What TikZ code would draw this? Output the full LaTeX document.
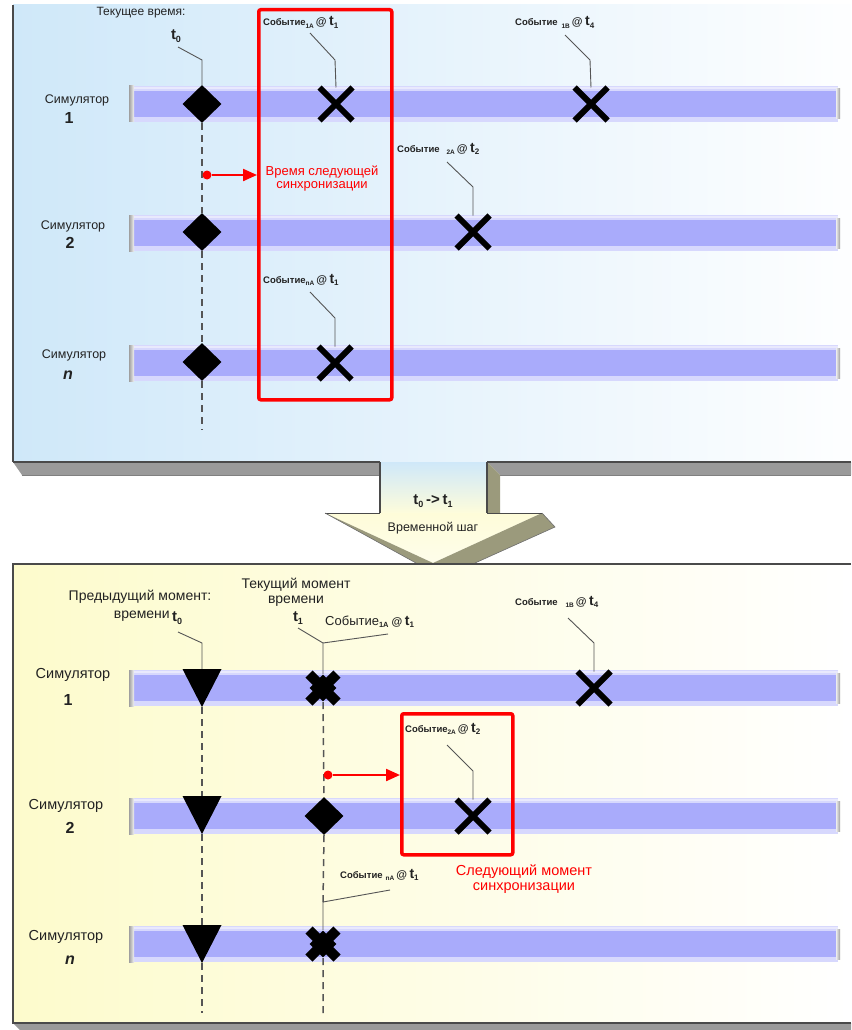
\documentclass[tikz,border=0pt]{standalone}
\usepackage{fontspec}
\setmainfont{Liberation Sans}
\usetikzlibrary{shapes.geometric,shapes.misc,arrows.meta}

\definecolor{skyL}{HTML}{CFE8F9}
\definecolor{creamL}{HTML}{FDFBCC}
\definecolor{barMain}{HTML}{A9ABFB}
\definecolor{barEdge}{HTML}{D7D8FD}
\definecolor{frameGray}{HTML}{4A4A4A}
\definecolor{ledgeGray}{HTML}{9A9A9A}
\definecolor{khaki}{HTML}{9B9A7C}
\definecolor{leadGray}{HTML}{555555}
\definecolor{sigRed}{HTML}{FF0000}
\definecolor{inkDark}{HTML}{222222}

\newcommand{\fsz}[1]{\fontsize{#1}{#1}\selectfont}
% small event tag: gap, subscript, time index
\newcommand{\evsmall}[3]{{\fsz{9.5}\bfseries Событие}\hspace{#1}\raisebox{-2.5pt}{\fsz{6.5}\bfseries #2}\hspace{2pt}{\fsz{11}\bfseries @}\hspace{2.5pt}{\fsz{14}\bfseries t}\raisebox{-2.5pt}{\fsz{8}\bfseries #3}}
% larger event tag used under the current time
\newcommand{\evbig}[2]{{\fsz{13}Событие}\raisebox{-2.5pt}{\fsz{7.5}\bfseries #1}\hspace{3pt}{\fsz{11}\bfseries @}\hspace{2.5pt}{\fsz{14}\bfseries t}\raisebox{-2.5pt}{\fsz{8}\bfseries #2}}
\newcommand{\tsub}[1]{{\fsz{15}\bfseries t}\raisebox{-3pt}{\fsz{9}\bfseries #1}}

% one simulator timeline bar centred at the given height
\newcommand{\lane}[1]{%
  \begin{scope}[shift={(0,#1)}]
    \fill[barEdge] (130,-18) rectangle (838,18);
    \fill[barMain] (130,-13) rectangle (838,13);
    \fill[white,opacity=0.45] (130,-17) rectangle (838,-15);
    \shade[left color=gray!75, right color=gray!10] (129,-18) rectangle (134,18);
    \shade[left color=gray!15, right color=gray!75] (836,-15) rectangle (840,15);
  \end{scope}}

\tikzset{
  dmd/.style={diamond, fill=black, minimum width=39pt, minimum height=38pt, inner sep=0pt},
  xm/.style={cross out, draw=black, line width=6pt, minimum size=33pt, inner sep=0pt, outer sep=0pt},
  bx/.style={cross out, draw=black, line width=10pt, minimum size=28pt, inner sep=0pt, outer sep=0pt},
  bxc/.style={diamond, fill=black, minimum size=27pt, inner sep=0pt},
  tri/.style={rectangle, minimum width=39pt, minimum height=38pt, inner sep=0pt,
    path picture={\fill[black] (path picture bounding box.north west) -- (path picture bounding box.north east) -- (path picture bounding box.south) -- cycle;}},
  simlbl/.style={inner sep=0pt, text=inkDark, font=\fsz{12.5}},
  simlblB/.style={inner sep=0pt, text=inkDark, font=\fsz{14.5}},
  simnum/.style={inner sep=0pt, text=inkDark, font=\fsz{16}\bfseries},
  simnumit/.style={inner sep=0pt, text=inkDark, font=\fsz{16}\bfseries\itshape},
  evl/.style={anchor=base west, inner sep=0pt, text=inkDark},
  lead/.style={draw=leadGray, line width=0.9pt},
  dashline/.style={draw=leadGray, line width=1.5pt, dash pattern=on 7pt off 5pt},
  syncbox/.style={draw=sigRed, line width=3.5pt, rounded corners=2pt, anchor=north west, inner sep=0pt},
  rdot/.style={circle, fill=sigRed, minimum size=9pt, inner sep=0pt},
  redarrow/.style={draw=sigRed, line width=2.2pt, -{Triangle[length=14pt,width=12pt]}},
  redtxt/.style={text=sigRed, align=center, inner sep=0pt},
  plain/.style={inner sep=0pt, text=inkDark},
}

\begin{document}
\begin{tikzpicture}[x=1pt,y=-1pt]
\useasboundingbox (0,0) rectangle (851,1030);

% ---------- upper panel ----------
\shade[left color=skyL, right color=white!97!skyL] (13,5) rectangle (851,462);
\draw[frameGray, line width=1.5pt] (13,5) -- (13,462);
\fill[ledgeGray] (13,462) -- (380,462) -- (380,475) -- (22,475) -- cycle;
\fill[ledgeGray] (487,462) -- (851,462) -- (851,475) -- (500,475) -- cycle;
\draw[frameGray, line width=1.2pt] (13,462) -- (380,462) (487,462) -- (851,462);
\draw[frameGray!70, line width=0.8pt] (22,475) -- (380,475) (500,475) -- (851,475);

% ---------- time-step arrow ----------
\shade[top color=skyL, bottom color=creamL!70!white] (380,462) rectangle (487,513);
\fill[khaki] (487,462) -- (500,475) -- (500,513) -- (487,513) -- cycle;
\draw[frameGray, line width=1.2pt] (380,462) -- (380,513) (487,462) -- (487,513);
\shade[top color=creamL!75!white, bottom color=creamL!40!white] (325,513) -- (542,513) -- (433,563) -- cycle;
\fill[khaki] (325,513) -- (433,563) -- (416,563) -- cycle;
\fill[khaki] (542,513) -- (555,527) -- (475,563) -- (433,563) -- cycle;
\draw[frameGray, line width=1pt] (325,513) -- (380,513) (487,513) -- (542,513);
\draw[frameGray!80, line width=0.6pt] (325,513) -- (416,563) (542,513) -- (555,527) -- (475,563);
\node[plain, font=\bfseries] (step) at (433,501) {\tsub{0} {\fsz{15}->} \tsub{1}};
\node[plain, font=\fsz{12.5}] (steplbl) at (433,528) {Временной шаг};

% ---------- lower panel ----------
\shade[left color=creamL, right color=white] (13,564) rectangle (851,1023);
\fill[ledgeGray] (13,1023) -- (851,1023) -- (851,1030) -- (20,1030) -- cycle;
\draw[frameGray, line width=1.5pt] (851,564) -- (13,564) -- (13,1023) -- (851,1023);

% ---------- timelines ----------
\lane{104} \lane{233} \lane{363}
\lane{688} \lane{816} \lane{944}

% ---------- upper panel: labels ----------
\node[simlbl] (sim1) at (77,100) {Симулятор};
\node[simnum] (sim1n) at (69,118) {1};
\node[simlbl] (sim2) at (73,226) {Симулятор};
\node[simnum] (sim2n) at (70,243) {2};
\node[simlbl] (simn) at (74,355) {Симулятор};
\node[simnumit] (simnn) at (68,375) {n};

\node[plain, font=\fsz{12}] (curtime) at (141,13) {Текущее время:};
\node[plain, anchor=base] (t0top) at (176,40) {\tsub{0}};

% sync window
\node[syncbox, minimum width=133pt, minimum height=390pt] (sb1) at (257,8) {};
\node[redtxt, font=\fsz{13}] (sync1) at (322,179) {Время следующей\\синхронизации};

% markers
\node[dmd] (d1) at (202,104) {};
\node[dmd] (d2) at (202,232) {};
\node[dmd] (dn) at (202,362) {};
\node[xm] (x1a) at (336,104) {};
\node[xm] (x1b) at (591,104) {};
\node[xm] (x2a) at (473,232) {};
\node[xm] (xna) at (335,363) {};

% event tags
\node[evl] (e1a) at (263,26) {\evsmall{0pt}{1A}{1}};
\node[evl] (e1b) at (515,26) {\evsmall{4pt}{1B}{4}};
\node[evl] (e2a) at (397,152) {\evsmall{7pt}{2A}{2}};
\node[evl] (ena) at (263,283) {\evsmall{0pt}{nA}{1}};

% leaders
\coordinate (t0a) at (178,47);  \coordinate (t0k) at (202,60);
\coordinate (l1a) at (310,33);  \coordinate (k1a) at (335,60);
\coordinate (l1b) at (565,35);  \coordinate (k1b) at (590,60);
\coordinate (l2a) at (447,162); \coordinate (k2a) at (473,187);
\coordinate (lna) at (310,292); \coordinate (kna) at (335,318);
\draw[lead] (t0a) -- (t0k) -- (d1.north);
\draw[lead] (l1a) -- (k1a) -- (x1a.north);
\draw[lead] (l1b) -- (k1b) -- (x1b.north);
\draw[lead] (l2a) -- (k2a) -- (x2a.north);
\draw[lead] (lna) -- (kna) -- (xna.north);

% current time line
\coordinate (endTop) at (202,430);
\draw[dashline] (d1.south) -- (d2.north) (d2.south) -- (dn.north) (dn.south) -- (endTop);

% next sync pointer
\node[rdot] (rd1) at (207,175) {};
\draw[redarrow] (rd1) -- (rd1 -| sb1.west);

% ---------- lower panel: labels ----------
\node[simlblB] (simB1) at (73,675) {Симулятор};
\node[simnum] (simB1n) at (68,700) {1};
\node[simlblB] (simB2) at (66,806) {Симулятор};
\node[simnum] (simB2n) at (70,828) {2};
\node[simlblB] (simBn) at (66,937) {Симулятор};
\node[simnumit] (simBnn) at (70,960) {n};

\node[plain, font=\fsz{14}] (prev1) at (140,597) {Предыдущий момент:};
\node[plain, font=\fsz{14}, anchor=base east] (prev2) at (170,618) {времени};
\node[plain, anchor=base west] (t0bot) at (172,621) {\tsub{0}};
\node[plain, font=\fsz{14}, align=center] (cur) at (296,592) {Текущий момент\\[1pt]времени};
\node[plain, anchor=base] (t1bot) at (298,621) {\tsub{1}};

% sync window
\node[syncbox, minimum width=111pt, minimum height=141pt] (sb2) at (400,712) {};
\node[redtxt, font=\fsz{14.5}] (sync2) at (524,879) {Следующий момент\\синхронизации};

% markers
\node[tri] (v1) at (202,688) {};
\node[tri] (v2) at (202,815) {};
\node[tri] (vn) at (202,944) {};
\node[bxc] (b1c) at (323,688) {};
\node[bx] (b1) at (323,688) {};
\node[dmd] (d2b) at (324,816) {};
\node[bxc] (bnc) at (323,944) {};
\node[bx] (bn) at (323,944) {};
\node[xm] (x1bB) at (594,688) {};
\node[xm] (x2aB) at (473,816) {};

% event tags
\node[evl] (eB1a) at (325,625) {\evbig{1A}{1}};
\node[evl] (eB1b) at (515,605) {\evsmall{8pt}{1B}{4}};
\node[evl] (eB2a) at (405,732) {\evsmall{0pt}{2A}{2}};
\node[evl] (eBna) at (340,878) {\evsmall{3pt}{nA}{1}};

% leaders
\coordinate (pt0a) at (178,632); \coordinate (pt0k) at (202,643);
\coordinate (ct1a) at (298,628); \coordinate (ct1k) at (323,643);
\coordinate (c1aa) at (388,634);
\coordinate (bl1b) at (568,618); \coordinate (bk1b) at (594,643);
\coordinate (bl2a) at (447,745); \coordinate (bk2a) at (473,771);
\coordinate (blna) at (390,890); \coordinate (bkna) at (323,902);
\draw[lead] (pt0a) -- (pt0k) -- (v1.north);
\draw[lead] (ct1a) -- (ct1k) -- (b1.north);
\draw[lead] (c1aa) -- (ct1k);
\draw[lead] (bl1b) -- (bk1b) -- (x1bB.north);
\draw[lead] (bl2a) -- (bk2a) -- (x2aB.north);
\draw[lead] (blna) -- (bkna) -- (bn.north);

% time lines
\coordinate (endP) at (202,1013);
\coordinate (endC) at (323,1013);
\draw[dashline] (v1.south) -- (v2.north) (v2.south) -- (vn.north) (vn.south) -- (endP);
\draw[dashline] (b1.south) -- (d2b.north) (d2b.south) -- (bkna) (bn.south) -- (endC);

% next sync pointer
\node[rdot] (rd2) at (328,775) {};
\draw[redarrow] (rd2) -- (rd2 -| sb2.west);

\end{tikzpicture}
\end{document}
